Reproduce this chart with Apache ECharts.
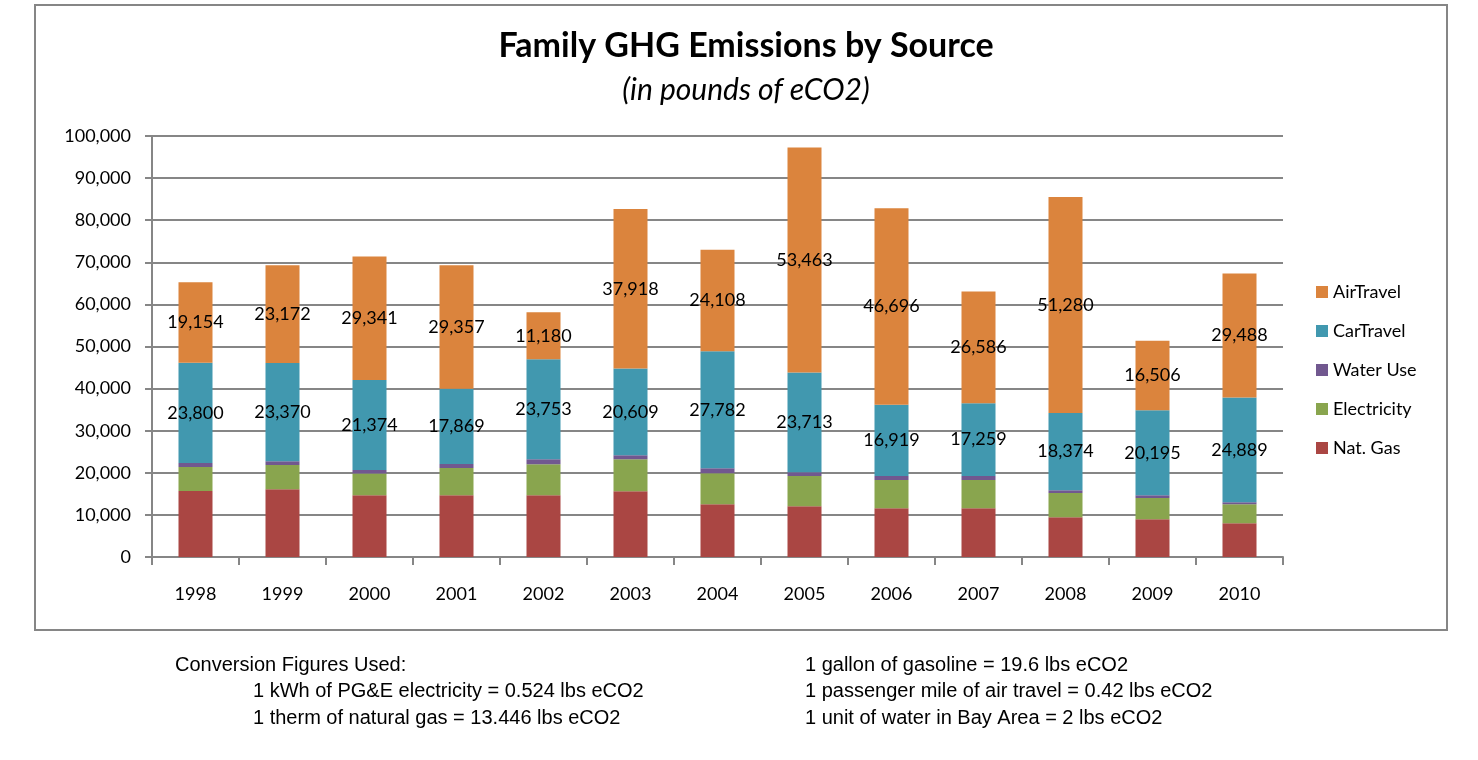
<!DOCTYPE html>
<html>
<head>
<meta charset="utf-8">
<script src="https://cdn.jsdelivr.net/npm/echarts@6/dist/echarts.min.js"></script>
<style>html,body{margin:0;padding:0;background:#fff}#c{width:1478px;height:760px}</style>
</head>
<body>
<div id="c"></div>
<script>
const years = ['1998','1999','2000','2001','2002','2003','2004','2005','2006','2007','2008','2009','2010'];
const natGas = [15680,16080,14650,14650,14650,15600,12520,12040,11570,11570,9430,8950,8000];
const electricity = [5700,5770,5160,6490,7370,7600,7360,7200,6720,6720,5770,5060,4520];
const waterUse = [950,880,860,950,1180,960,1190,880,950,950,640,640,470];
const carTravel = [23800,23370,21374,17869,23753,20609,27782,23713,16919,17259,18374,20195,24889];
const airTravel = [19154,23172,29341,29357,11180,37918,24108,53463,46696,26586,51280,16506,29488];
const seriesNames = ['Nat. Gas','Electricity','Water Use','CarTravel','AirTravel'];
const footLeft = ['Conversion Figures Used:','1 kWh of PG&E electricity = 0.524 lbs eCO2','1 therm of natural gas = 13.446 lbs eCO2'];
const footRight = ['1 gallon of gasoline = 19.6 lbs eCO2','1 passenger mile of air travel = 0.42 lbs eCO2','1 unit of water in Bay Area = 2 lbs eCO2'];

const colors = ['#AA4643','#89A54E','#71588F','#4198AF','#DB843D'];
const font = 'Lato, "Noto Sans", sans-serif';
const fmt = v => Math.round(v).toLocaleString('en-US');

function mk(name, data, color, showLabel) {
  return {
    name, type: 'bar', stack: 't', data, barWidth: 34,
    itemStyle: { color },
    label: { show: showLabel, position: 'inside', color: '#000', fontFamily: font, fontSize: 18,
      formatter: p => fmt(p.value) },
    emphasis: { disabled: true }
  };
}

const chart = echarts.init(document.getElementById('c'));
chart.setOption({
  animation: false,
  color: colors,
  title: {
    text: 'Family GHG Emissions by Source',
    subtext: '(in pounds of eCO2)',
    left: 741, textAlign: 'center', top: 24, itemGap: 12,
    textStyle: { fontFamily: font, fontWeight: 'bold', fontSize: 34, color: '#000' },
    subtextStyle: { fontFamily: font, fontStyle: 'italic', fontSize: 30, color: '#000' }
  },
  legend: {
    orient: 'vertical', left: 1311, top: 278, itemGap: 21, itemWidth: 12, itemHeight: 12,
    icon: 'rect',
    data: ['AirTravel','CarTravel','Water Use','Electricity','Nat. Gas'],
    textStyle: { fontFamily: font, fontSize: 18, color: '#000' }
  },
  grid: { left: 152, right: 195, top: 136, bottom: 203 },
  xAxis: {
    type: 'category', data: years,
    axisLine: { lineStyle: { color: '#868686', width: 2 } },
    axisTick: { show: true, length: 8, lineStyle: { color: '#868686', width: 2 } },
    axisLabel: { fontFamily: font, fontSize: 18, color: '#000', margin: 28 }
  },
  yAxis: {
    type: 'value', min: 0, max: 100000, interval: 10000,
    axisLine: { show: true, lineStyle: { color: '#868686', width: 2 } },
    axisTick: { show: true, length: 7, lineStyle: { color: '#868686', width: 2 } },
    splitLine: { lineStyle: { color: '#868686', width: 2 } },
    axisLabel: { fontFamily: font, fontSize: 18, color: '#000', margin: 21, formatter: v => fmt(v) }
  },
  series: [
    mk(seriesNames[0], natGas, colors[0], false),
    mk(seriesNames[1], electricity, colors[1], false),
    mk(seriesNames[2], waterUse, colors[2], false),
    mk(seriesNames[3], carTravel, colors[3], true),
    mk(seriesNames[4], airTravel, colors[4], true)
  ],
  graphic: [
    { type: 'rect', shape: { x: 35, y: 5, width: 1412, height: 625 }, style: { fill: null, stroke: '#868686', lineWidth: 2 }, z: -1 },
    ...footLeft.map((t, i) => ({ type: 'text', left: i === 0 ? 175 : 253, top: 655 + i * 26.5,
      style: { text: t, fontFamily: '"Liberation Sans", Arial, sans-serif', fontSize: 20, fill: '#000' } })),
    ...footRight.map((t, i) => ({ type: 'text', left: 805, top: 655 + i * 26.5,
      style: { text: t, fontFamily: '"Liberation Sans", Arial, sans-serif', fontSize: 20, fill: '#000' } }))
  ]
});
</script>
</body>
</html>
